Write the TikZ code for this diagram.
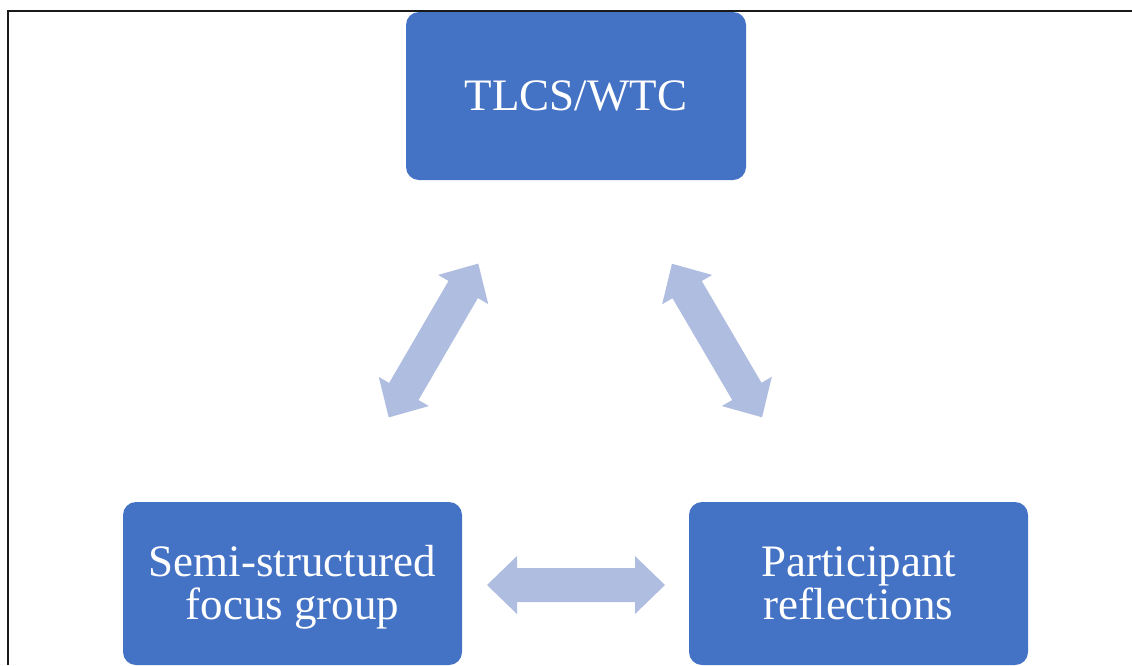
\documentclass[tikz,border=0pt]{standalone}
\usepackage{fontspec}
\setmainfont{Liberation Serif}
\definecolor{boxblue}{HTML}{4472C4}
\definecolor{arrowblue}{HTML}{AFBDE0}
\definecolor{frameline}{HTML}{1A1A1A}
\tikzset{
  stagebox/.style={fill=boxblue, rounded corners=13pt, inner sep=0pt,
    text=white, align=center, font=\fontsize{45}{43.5}\selectfont},
  stagetext/.style={inner sep=0pt, text=white, align=center,
    font=\fontsize{45}{43.5}\selectfont, anchor=base},
  % two-headed block arrow, 178 long, shaft 34 wide, heads 58 wide
  dblarrow/.pic={
    \fill[arrowblue] (-89,0) -- (-59,-29) -- (-59,-17) -- (59,-17) -- (59,-29)
      -- (89,0) -- (59,29) -- (59,17) -- (-59,17) -- (-59,29) -- cycle;
  }
}
\begin{document}
\begin{tikzpicture}[x=1pt,y=-1pt]
\useasboundingbox (0,0) rectangle (1132,665);

% frame lines along the top and left edges
\draw[frameline, line width=2pt] (8,665) -- (8,11) -- (1132,11);

% the three stages
\node[stagebox, minimum width=340pt, minimum height=168pt] (tlcs) at (576,96) {TLCS/WTC};
\node[stagebox, minimum width=339pt, minimum height=163pt] (focus) at (292.5,583.5) {};
\node[stagebox, minimum width=339pt, minimum height=163pt] (refl) at (858.5,583.5) {};
% base anchor sits on the last line's baseline
\node[stagetext] (focustxt) at (292.5,619.5) {Semi-structured\\focus group};
\node[stagetext] (refltxt) at (858.5,619.5) {Participant\\reflections};

% arrows linking the stages
\coordinate (ab) at (433.5,340.5);
\coordinate (bc) at (717,340.5);
\coordinate (ca) at (576,585);
\pic[rotate=59.8] at (ab) {dblarrow};
\pic[rotate=-59.6] at (bc) {dblarrow};
\pic at (ca) {dblarrow};
\end{tikzpicture}
\end{document}
